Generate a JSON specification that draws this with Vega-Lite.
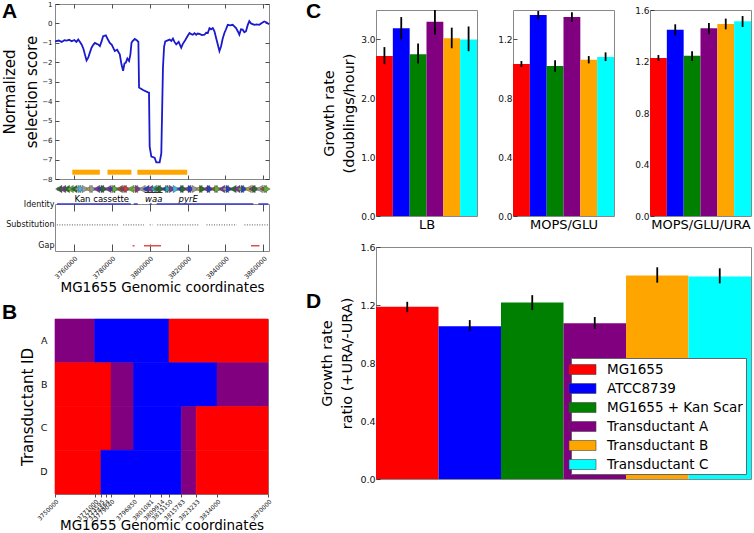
{
"$schema": "https://vega.github.io/schema/vega-lite/v6.json",
"padding": {"left": 1, "top": -19, "right": 0, "bottom": 0},
"autosize": {"type": "pad"},
"background": "white",
"config": {
  "font": "DejaVu Sans",
  "view": {"stroke": "#888888", "strokeWidth": 1},
  "axis": {"grid": false, "domain": false, "labelOverlap": false, "labelFont": "DejaVu Sans", "titleFont": "DejaVu Sans", "titleFontWeight": "normal", "labelColor": "#111111", "titleColor": "#000000", "tickColor": "#222222", "tickWidth": 0.8},
  "title": {"font": "Liberation Sans", "fontWeight": "bold", "fontSize": 21, "color": "#000000", "anchor": "start", "frame": "group", "offset": 0, "baseline": "top"}
},
"datasets": {
  "score": [
    {"pos":3750000,"score":-0.92},{"pos":3752000,"score":-0.88},{"pos":3753500,"score":-0.95},{"pos":3755000,"score":-0.86},
    {"pos":3756140,"score":-0.88},{"pos":3757500,"score":-0.84},{"pos":3758770,"score":-0.92},{"pos":3760200,"score":-0.85},
    {"pos":3761300,"score":-0.95},{"pos":3762280,"score":-0.83},{"pos":3763200,"score":-0.95},{"pos":3764030,"score":-1.08},
    {"pos":3765000,"score":-1.3},{"pos":3765790,"score":-1.59},{"pos":3766660,"score":-1.9},{"pos":3767540,"score":-1.76},
    {"pos":3768400,"score":-1.5},{"pos":3769290,"score":-1.25},{"pos":3770200,"score":-1.1},{"pos":3771050,"score":-1.0},
    {"pos":3772000,"score":-1.05},{"pos":3772800,"score":-1.08},{"pos":3773680,"score":-1.17},{"pos":3774500,"score":-0.95},
    {"pos":3775430,"score":-0.66},{"pos":3776840,"score":-0.61},{"pos":3777800,"score":-0.8},{"pos":3778940,"score":-1.0},
    {"pos":3780000,"score":-1.1},{"pos":3781570,"score":-1.42},{"pos":3782800,"score":-1.35},{"pos":3784200,"score":-1.59},
    {"pos":3785100,"score":-2.1},{"pos":3785960,"score":-2.44},{"pos":3786700,"score":-2.05},{"pos":3787360,"score":-2.02},
    {"pos":3788200,"score":-1.8},{"pos":3789110,"score":-1.93},{"pos":3789820,"score":-1.59},{"pos":3790400,"score":-1.0},
    {"pos":3790870,"score":-0.92},{"pos":3792100,"score":-0.8},{"pos":3793320,"score":-0.88},{"pos":3794030,"score":-0.95},
    {"pos":3794380,"score":-3.29},{"pos":3796480,"score":-3.42},{"pos":3799110,"score":-3.54},{"pos":3799640,"score":-3.55},
    {"pos":3799990,"score":-6.34},{"pos":3800870,"score":-6.85},{"pos":3802620,"score":-6.9},{"pos":3803500,"score":-7.15},
    {"pos":3805250,"score":-7.15},{"pos":3806130,"score":-6.68},{"pos":3807010,"score":-2.27},{"pos":3807600,"score":-1.2},
    {"pos":3808230,"score":-0.92},{"pos":3810510,"score":-0.83},{"pos":3811400,"score":-0.9},{"pos":3812270,"score":-0.78},
    {"pos":3813100,"score":-0.95},{"pos":3814020,"score":-1.08},{"pos":3815300,"score":-0.95},{"pos":3816650,"score":-1.25},
    {"pos":3817500,"score":-1.05},{"pos":3818410,"score":-0.92},{"pos":3819700,"score":-0.7},{"pos":3821040,"score":-0.49},
    {"pos":3822000,"score":-0.55},{"pos":3822790,"score":-0.58},{"pos":3823700,"score":-0.5},{"pos":3824550,"score":-0.58},
    {"pos":3825400,"score":-0.52},{"pos":3826300,"score":-0.54},{"pos":3827600,"score":-0.6},{"pos":3828930,"score":-0.58},
    {"pos":3829800,"score":-0.48},{"pos":3830690,"score":-0.49},{"pos":3831560,"score":-0.24},{"pos":3832400,"score":-0.3},
    {"pos":3833320,"score":-0.24},{"pos":3834200,"score":-0.4},{"pos":3835070,"score":-0.75},{"pos":3836000,"score":-1.1},
    {"pos":3836820,"score":-1.42},{"pos":3837700,"score":-1.17},{"pos":3838500,"score":-0.8},{"pos":3839450,"score":-0.49},
    {"pos":3840300,"score":-0.3},{"pos":3841210,"score":-0.07},{"pos":3842500,"score":-0.1},{"pos":3843840,"score":-0.07},
    {"pos":3844700,"score":-0.15},{"pos":3845600,"score":-0.24},{"pos":3846500,"score":-0.4},{"pos":3847350,"score":-0.58},
    {"pos":3848200,"score":-0.3},{"pos":3849100,"score":-0.32},{"pos":3850000,"score":-0.45},{"pos":3850860,"score":-0.4},
    {"pos":3851700,"score":-0.1},{"pos":3852610,"score":0.12},{"pos":3853500,"score":0.0},{"pos":3855240,"score":-0.07},
    {"pos":3856500,"score":-0.05},{"pos":3857870,"score":-0.07},{"pos":3859200,"score":0.02},{"pos":3860500,"score":0.1},
    {"pos":3861800,"score":0.05},{"pos":3863000,"score":-0.05}
  ],
  "orange": [
    {"start":3759120,"end":3773680},{"start":3777710,"end":3790340},{"start":3793500,"end":3819810}
  ],
  "genes": [
    {"pos":3752000,"dir":"L","c":"c2"},{"pos":3754000,"dir":"L","c":"c3"},{"pos":3756000,"dir":"L","c":"c2"},{"pos":3758000,"dir":"L","c":"c1"},
    {"pos":3760000,"dir":"L","c":"c2"},{"pos":3762000,"dir":"L","c":"c6"},{"pos":3764000,"dir":"R","c":"cy"},{"pos":3766000,"dir":"R","c":"c6"},
    {"pos":3768000,"dir":"L","c":"c7"},{"pos":3770000,"dir":"R","c":"c6"},{"pos":3772000,"dir":"L","c":"c3"},{"pos":3774000,"dir":"L","c":"c4"},
    {"pos":3776000,"dir":"R","c":"c2"},{"pos":3778000,"dir":"L","c":"c3"},{"pos":3780000,"dir":"L","c":"c4"},{"pos":3782000,"dir":"R","c":"c1"},
    {"pos":3784000,"dir":"L","c":"c8"},{"pos":3786000,"dir":"L","c":"c3"},{"pos":3788000,"dir":"R","c":"c9"},{"pos":3790000,"dir":"L","c":"c1"},
    {"pos":3792000,"dir":"L","c":"c7"},{"pos":3794000,"dir":"R","c":"c3"},{"pos":3796000,"dir":"L","c":"c6"},{"pos":3798000,"dir":"L","c":"c4"},
    {"pos":3800000,"dir":"L","c":"c3"},{"pos":3802000,"dir":"L","c":"c5"},{"pos":3804000,"dir":"L","c":"c2"},{"pos":3806000,"dir":"R","c":"c2"},
    {"pos":3808000,"dir":"L","c":"c4"},{"pos":3810000,"dir":"R","c":"c5"},{"pos":3812000,"dir":"R","c":"c3"},{"pos":3814000,"dir":"R","c":"cy"},
    {"pos":3816000,"dir":"L","c":"c4"},{"pos":3818000,"dir":"R","c":"c2"},{"pos":3820000,"dir":"L","c":"c3"},{"pos":3822000,"dir":"R","c":"c4"},
    {"pos":3824000,"dir":"R","c":"c6"},{"pos":3826000,"dir":"L","c":"c7"},{"pos":3828000,"dir":"R","c":"c2"},{"pos":3830000,"dir":"L","c":"c3"},
    {"pos":3832000,"dir":"R","c":"c4"},{"pos":3834000,"dir":"L","c":"c8"},{"pos":3836000,"dir":"R","c":"c1"},{"pos":3838000,"dir":"L","c":"c3"},
    {"pos":3840000,"dir":"L","c":"c6"},{"pos":3842000,"dir":"R","c":"c4"},{"pos":3844000,"dir":"L","c":"c2"},{"pos":3846000,"dir":"L","c":"c3"},
    {"pos":3848000,"dir":"L","c":"c1"},{"pos":3850000,"dir":"R","c":"c4"},{"pos":3852000,"dir":"L","c":"c7"},{"pos":3854000,"dir":"L","c":"c3"},
    {"pos":3856000,"dir":"R","c":"c2"},{"pos":3858000,"dir":"L","c":"c6"},{"pos":3860000,"dir":"L","c":"c8"},{"pos":3862000,"dir":"R","c":"c1"}
  ],
  "genelabels": [
    {"pos":3774700,"label":"Kan cassette","kind":"n"},
    {"pos":3802100,"label":"waa","kind":"i"},
    {"pos":3820300,"label":"pyrE","kind":"i"}
  ],
  "ident": [
    {"track":"Identity","lvl":2,"start":3751050,"end":3790000},
    {"track":"Identity","lvl":2,"start":3791580,"end":3793680},
    {"track":"Identity","lvl":2,"start":3800000,"end":3801050},
    {"track":"Identity","lvl":2,"start":3803680,"end":3854740},
    {"track":"Identity","lvl":2,"start":3857370,"end":3862630},
    {"track":"Substitution","lvl":1,"start":3751000,"end":3784000},
    {"track":"Substitution","lvl":1,"start":3786000,"end":3797000},
    {"track":"Substitution","lvl":1,"start":3800000,"end":3801500},
    {"track":"Substitution","lvl":1,"start":3804000,"end":3826000},
    {"track":"Substitution","lvl":1,"start":3830000,"end":3846000},
    {"track":"Substitution","lvl":1,"start":3850000,"end":3862500},
    {"track":"Gap","lvl":0,"start":3791000,"end":3792000},
    {"track":"Gap","lvl":0,"start":3797000,"end":3806000},
    {"track":"Gap","lvl":0,"start":3853500,"end":3858000}
  ],
  "blocks": [
    {"row":"A","start":3750000,"end":3771000,"src":"mixed"},
    {"row":"A","start":3771000,"end":3813150,"src":"ATCC8739"},
    {"row":"A","start":3813150,"end":3870000,"src":"MG1655"},
    {"row":"B","start":3750000,"end":3779040,"src":"MG1655"},
    {"row":"B","start":3779040,"end":3796850,"src":"mixed"},
    {"row":"B","start":3796850,"end":3834000,"src":"ATCC8739"},
    {"row":"B","start":3834000,"end":3870000,"src":"mixed"},
    {"row":"C","start":3750000,"end":3779040,"src":"MG1655"},
    {"row":"C","start":3779040,"end":3796850,"src":"mixed"},
    {"row":"C","start":3796850,"end":3815783,"src":"ATCC8739"},
    {"row":"C","start":3815783,"end":3823233,"src":"mixed"},
    {"row":"C","start":3823233,"end":3870000,"src":"MG1655"},
    {"row":"D","start":3750000,"end":3773595,"src":"MG1655"},
    {"row":"D","start":3773595,"end":3815783,"src":"ATCC8739"},
    {"row":"D","start":3815783,"end":3823233,"src":"mixed"},
    {"row":"D","start":3823233,"end":3870000,"src":"MG1655"}
  ],
  "growth": [
    {"medium":"LB","strain":"MG1655","value":2.72,"lo":2.58,"hi":2.87},
    {"medium":"LB","strain":"ATCC8739","value":3.19,"lo":3.0,"hi":3.38},
    {"medium":"LB","strain":"MG1655 + Kan Scar","value":2.75,"lo":2.59,"hi":2.93},
    {"medium":"LB","strain":"Transductant A","value":3.3,"lo":3.08,"hi":3.51},
    {"medium":"LB","strain":"Transductant B","value":3.02,"lo":2.85,"hi":3.2},
    {"medium":"LB","strain":"Transductant C","value":3.0,"lo":2.8,"hi":3.22},
    {"medium":"MOPS/GLU","strain":"MG1655","value":1.033,"lo":1.013,"hi":1.053},
    {"medium":"MOPS/GLU","strain":"ATCC8739","value":1.366,"lo":1.337,"hi":1.393},
    {"medium":"MOPS/GLU","strain":"MG1655 + Kan Scar","value":1.02,"lo":0.981,"hi":1.058},
    {"medium":"MOPS/GLU","strain":"Transductant A","value":1.352,"lo":1.318,"hi":1.384},
    {"medium":"MOPS/GLU","strain":"Transductant B","value":1.062,"lo":1.037,"hi":1.087},
    {"medium":"MOPS/GLU","strain":"Transductant C","value":1.08,"lo":1.053,"hi":1.112},
    {"medium":"MOPS/GLU/URA","strain":"MG1655","value":1.227,"lo":1.204,"hi":1.25},
    {"medium":"MOPS/GLU/URA","strain":"ATCC8739","value":1.447,"lo":1.403,"hi":1.489},
    {"medium":"MOPS/GLU/URA","strain":"MG1655 + Kan Scar","value":1.245,"lo":1.204,"hi":1.28},
    {"medium":"MOPS/GLU/URA","strain":"Transductant A","value":1.458,"lo":1.411,"hi":1.499},
    {"medium":"MOPS/GLU/URA","strain":"Transductant B","value":1.491,"lo":1.45,"hi":1.533},
    {"medium":"MOPS/GLU/URA","strain":"Transductant C","value":1.512,"lo":1.468,"hi":1.553}
  ],
  "ratio": [
    {"strain":"MG1655","value":1.188,"lo":1.151,"hi":1.222},
    {"strain":"ATCC8739","value":1.054,"lo":1.02,"hi":1.096},
    {"strain":"MG1655 + Kan Scar","value":1.218,"lo":1.165,"hi":1.268},
    {"strain":"Transductant A","value":1.075,"lo":1.036,"hi":1.117},
    {"strain":"Transductant B","value":1.404,"lo":1.354,"hi":1.46},
    {"strain":"Transductant C","value":1.397,"lo":1.349,"hi":1.453}
  ]
},
"spacing": 32,
"resolve": {"scale": {"color": "independent"}, "legend": {"color": "independent"}},
"hconcat": [
  {
    "bounds": "flush",
    "spacing": 0,
    "resolve": {"scale": {"color": "independent", "stroke": "independent"}, "legend": {"color": "independent"}},
    "vconcat": [
      {"width": 214, "height": 20, "view": {"stroke": null}, "data": {"values": [{}]}, "mark": {"type": "point", "opacity": 0}},
      {
        "width": 214, "height": 175,
        "title": {"text": "A", "dx": -53, "dy": 26},
        "layer": [
          {
            "data": {"name": "score"},
            "mark": {"type": "line", "color": "#1a1acd", "strokeWidth": 1.8, "clip": true},
            "encoding": {
              "x": {"field": "pos", "type": "quantitative", "scale": {"domain": [3750000, 3863000], "nice": false, "zero": false},
                    "axis": {"orient": "bottom", "values": [3760000, 3780000, 3800000, 3820000, 3840000, 3860000], "labels": false, "tickSize": -4, "title": null}},
              "y": {"field": "score", "type": "quantitative", "scale": {"domain": [-8, 1], "nice": false, "zero": false},
                    "axis": {"values": [-8, -7, -6, -5, -4, -3, -2, -1, 0, 1], "labelOverlap": false, "labelFontSize": 7, "tickSize": -4, "labelPadding": 7,
                             "title": ["Normalized", "selection score"], "titleFontSize": 15, "titleLineHeight": 22, "titlePadding": 2}}
            }
          },
          {
            "mark": {"type": "rule", "strokeDash": [4, 3], "color": "#777777", "strokeWidth": 1},
            "encoding": {"y": {"datum": 0, "type": "quantitative", "axis": null}}
          },
          {
            "data": {"name": "orange"},
            "mark": {"type": "rule", "color": "#ffa500", "strokeWidth": 5},
            "encoding": {
              "x": {"field": "start", "type": "quantitative",
                    "axis": {"orient": "top", "values": [3760000, 3780000, 3800000, 3820000, 3840000, 3860000], "labels": false, "tickSize": -4, "title": null}},
              "x2": {"field": "end"},
              "y": {"datum": -7.65, "type": "quantitative",
                    "axis": {"orient": "right", "values": [-8, -7, -6, -5, -4, -3, -2, -1, 0, 1], "labels": false, "tickSize": -4, "title": null}}
            }
          }
        ],
        "resolve": {"axis": {"x": "independent", "y": "independent"}}
      },
      {
        "width": 214, "height": 25,
        "view": {"stroke": null},
        "layer": [
          {
            "data": {"values": [{"start": 3751000, "end": 3862500}]},
            "mark": {"type": "rule", "color": "#bdbdbd", "strokeWidth": 4},
            "encoding": {
              "x": {"field": "start", "type": "quantitative", "scale": {"domain": [3750000, 3863000], "nice": false, "zero": false}, "axis": null},
              "x2": {"field": "end"},
              "y": {"datum": 0.6, "type": "quantitative", "scale": {"domain": [0, 1], "nice": false}, "axis": null}
            }
          },
          {
            "data": {"name": "genes"},
            "mark": {"type": "point", "filled": true, "size": 55, "opacity": 1, "stroke": "#333333", "strokeWidth": 0.3},
            "encoding": {
              "x": {"field": "pos", "type": "quantitative"},
              "y": {"datum": 0.6, "type": "quantitative"},
              "shape": {"field": "dir", "type": "nominal", "scale": {"domain": ["L", "R"], "range": ["triangle-left", "triangle-right"]}, "legend": null},
              "color": {"field": "c", "type": "nominal",
                        "scale": {"domain": ["c1","c2","c3","c4","c5","c6","c7","c8","c9","cy"],
                                  "range": ["#5fae3c","#2e6b2e","#7a3b8f","#2c3fbf","#2fa39a","#9a9a9a","#a6a83a","#8b5a2b","#c84040","#3fb6e0"]},
                        "legend": null}
            }
          },
          {
            "data": {"name": "genelabels"},
            "transform": [{"filter": "datum.kind === 'n'"}],
            "mark": {"type": "text", "fontSize": 8.5, "font": "DejaVu Sans", "color": "#000000"},
            "encoding": {
              "x": {"field": "pos", "type": "quantitative"},
              "y": {"datum": 0.22, "type": "quantitative"},
              "text": {"field": "label"}
            }
          },
          {
            "data": {"name": "genelabels"},
            "transform": [{"filter": "datum.kind === 'i'"}],
            "mark": {"type": "text", "fontSize": 8.5, "font": "DejaVu Sans", "fontStyle": "italic", "color": "#000000"},
            "encoding": {
              "x": {"field": "pos", "type": "quantitative"},
              "y": {"datum": 0.22, "type": "quantitative"},
              "text": {"field": "label"}
            }
          },
          {
            "data": {"values": [{"start": 3797400, "end": 3806800}]},
            "mark": {"type": "rule", "color": "#333333", "strokeWidth": 1},
            "encoding": {
              "x": {"field": "start", "type": "quantitative"},
              "x2": {"field": "end"},
              "y": {"datum": 0.46, "type": "quantitative"}
            }
          }
        ]
      },
      {
        "width": 214, "height": 47,
        "layer": [
          {
            "data": {"name": "ident"},
            "mark": {"type": "rule", "strokeWidth": 1.4},
            "encoding": {
              "x": {"field": "start", "type": "quantitative", "scale": {"domain": [3750000, 3863000], "nice": false, "zero": false},
                    "axis": {"orient": "bottom", "values": [3760000, 3780000, 3800000, 3820000, 3840000, 3860000], "format": "d", "labelOverlap": false,
                             "labelAngle": -45, "labelAlign": "right", "labelBaseline": "top", "labelFontSize": 6.5, "tickSize": -7, "labelPadding": 11,
                             "title": "MG1655 Genomic coordinates", "titleFontSize": 13.5, "titlePadding": 0}},
              "x2": {"field": "end"},
              "y": {"field": "lvl", "type": "quantitative", "scale": {"domain": [-0.25, 2], "nice": false, "zero": false},
                    "axis": {"values": [0, 1, 2], "labelOverlap": false, "labelExpr": "datum.value == 2 ? 'Identity' : datum.value == 1 ? 'Substitution' : 'Gap'",
                             "ticks": false, "labelFontSize": 8, "labelPadding": 1, "title": null}},
              "color": {"field": "track", "type": "nominal", "scale": {"domain": ["Identity", "Substitution", "Gap"], "range": ["#3a3acc", "#777777", "#e05050"]}, "legend": null},
              "strokeDash": {"field": "track", "type": "nominal", "scale": {"domain": ["Identity", "Substitution", "Gap"], "range": [[1, 0], [1, 1.5], [1, 0]]}, "legend": null}
            }
          },
          {
            "data": {"name": "ident"},
            "mark": {"type": "rule", "opacity": 0},
            "encoding": {
              "x": {"field": "start", "type": "quantitative",
                    "axis": {"orient": "top", "values": [3760000, 3780000, 3800000, 3820000, 3840000, 3860000], "labels": false, "tickSize": -7, "title": null}}
            }
          }
        ],
        "resolve": {"axis": {"x": "independent"}}
      },
      {"width": 214, "height": 68, "view": {"stroke": null}, "data": {"values": [{}]}, "mark": {"type": "point", "opacity": 0}},
      {
        "width": 213, "height": 175,
        "title": {"text": "B", "dx": -53, "dy": 8},
        "data": {"name": "blocks"},
        "mark": {"type": "rect", "strokeWidth": 0.6},
        "encoding": {
          "x": {"field": "start", "type": "quantitative",
                "scale": {"domain": [3750000, 3771000, 3773595, 3774464, 3779040, 3796850, 3801081, 3809914, 3813150, 3815783, 3823233, 3834000, 3870000],
                          "range": [0, 39.7, 45.9, 51, 56, 78.5, 95, 106, 114, 126.4, 141.2, 162, 213], "nice": false, "zero": false},
                "axis": {"values": [3750000, 3771000, 3773595, 3774464, 3779040, 3796850, 3801081, 3809914, 3813150, 3815783, 3823233, 3834000, 3870000],
                         "format": "d", "labelOverlap": false, "labelAngle": -45, "labelAlign": "right", "labelBaseline": "top", "labelFontSize": 6, "tickSize": 3, "labelPadding": 1,
                         "title": "MG1655 Genomic coordinates", "titleFontSize": 13.5, "titlePadding": -3}},
          "x2": {"field": "end"},
          "y": {"field": "row", "type": "nominal", "scale": {"paddingInner": 0, "paddingOuter": 0},
                "axis": {"ticks": false, "labelFontSize": 9.5, "labelPadding": 8, "title": "Transductant ID", "titleFontSize": 15, "titlePadding": 4}},
          "color": {"field": "src", "type": "nominal", "scale": {"domain": ["MG1655", "ATCC8739", "mixed"], "range": ["#ff0000", "#0000ff", "#800080"]}, "legend": null},
          "stroke": {"field": "src", "type": "nominal", "scale": {"domain": ["MG1655", "ATCC8739", "mixed"], "range": ["#ff0000", "#0000ff", "#800080"]}, "legend": null}
        }
      }
    ]
  },
  {
    "spacing": 12,
    "resolve": {"scale": {"color": "independent"}, "legend": {"color": "independent"}},
    "vconcat": [
      {"width": 101, "height": 1, "view": {"stroke": null}, "data": {"values": [{}]}, "mark": {"type": "point", "opacity": 0}},
      {
        "spacing": 9,
        "resolve": {"scale": {"color": "independent"}, "legend": {"color": "independent"}},
        "vconcat": [
          {
            "bounds": "flush",
            "spacing": 36,
            "resolve": {"scale": {"color": "independent"}, "legend": {"color": "independent"}},
            "hconcat": [
              {
                "width": 101, "height": 206,
                "title": {"text": "C", "dx": -70, "dy": 16},
                "data": {"name": "growth"},
                "transform": [{"filter": "datum.medium === 'LB'"}],
                "encoding": {
                  "x": {"field": "strain", "type": "nominal",
                        "scale": {"domain": ["MG1655", "ATCC8739", "MG1655 + Kan Scar", "Transductant A", "Transductant B", "Transductant C"], "paddingInner": 0, "paddingOuter": 0},
                        "axis": {"title": "LB", "labels": false, "ticks": false, "titleFontSize": 13, "titlePadding": 2}}
                },
                "layer": [
                  {
                    "mark": {"type": "bar"},
                    "encoding": {
                      "y": {"field": "value", "type": "quantitative", "scale": {"domain": [0, 3.5], "nice": false},
                            "axis": {"values": [0, 0.5, 1, 1.5, 2, 2.5, 3, 3.5], "labelOverlap": false, "format": ".1f", "labelFontSize": 9, "tickSize": -4, "labelPadding": 5,
                                     "title": ["Growth rate", "(doublings/hour)"], "titleFontSize": 14.5, "titleLineHeight": 20, "titlePadding": 4}},
                      "color": {"field": "strain", "type": "nominal",
                                "scale": {"domain": ["MG1655", "ATCC8739", "MG1655 + Kan Scar", "Transductant A", "Transductant B", "Transductant C"],
                                          "range": ["#ff0000", "#0000ff", "#008000", "#800080", "#ffa500", "#00ffff"]}, "legend": null}
                    }
                  },
                  {
                    "mark": {"type": "rule", "color": "#000000", "strokeWidth": 1.8, "clip": true},
                    "encoding": {"y": {"field": "lo", "type": "quantitative"}, "y2": {"field": "hi"}}
                  }
                ]
              },
              {
                "width": 101, "height": 206,
                "data": {"name": "growth"},
                "transform": [{"filter": "datum.medium === 'MOPS/GLU'"}],
                "encoding": {
                  "x": {"field": "strain", "type": "nominal",
                        "scale": {"domain": ["MG1655", "ATCC8739", "MG1655 + Kan Scar", "Transductant A", "Transductant B", "Transductant C"], "paddingInner": 0, "paddingOuter": 0},
                        "axis": {"title": "MOPS/GLU", "labels": false, "ticks": false, "titleFontSize": 13, "titlePadding": 2}}
                },
                "layer": [
                  {
                    "mark": {"type": "bar"},
                    "encoding": {
                      "y": {"field": "value", "type": "quantitative", "scale": {"domain": [0, 1.4], "nice": false},
                            "axis": {"values": [0, 0.2, 0.4, 0.6, 0.8, 1.0, 1.2, 1.4], "labelOverlap": false, "format": ".1f", "labelFontSize": 9, "tickSize": -4, "labelPadding": 5, "title": null}},
                      "color": {"field": "strain", "type": "nominal",
                                "scale": {"domain": ["MG1655", "ATCC8739", "MG1655 + Kan Scar", "Transductant A", "Transductant B", "Transductant C"],
                                          "range": ["#ff0000", "#0000ff", "#008000", "#800080", "#ffa500", "#00ffff"]}, "legend": null}
                    }
                  },
                  {
                    "mark": {"type": "rule", "color": "#000000", "strokeWidth": 1.8, "clip": true},
                    "encoding": {"y": {"field": "lo", "type": "quantitative"}, "y2": {"field": "hi"}}
                  }
                ]
              },
              {
                "width": 101, "height": 206,
                "data": {"name": "growth"},
                "transform": [{"filter": "datum.medium === 'MOPS/GLU/URA'"}],
                "encoding": {
                  "x": {"field": "strain", "type": "nominal",
                        "scale": {"domain": ["MG1655", "ATCC8739", "MG1655 + Kan Scar", "Transductant A", "Transductant B", "Transductant C"], "paddingInner": 0, "paddingOuter": 0},
                        "axis": {"title": "MOPS/GLU/URA", "labels": false, "ticks": false, "titleFontSize": 13, "titlePadding": 2}}
                },
                "layer": [
                  {
                    "mark": {"type": "bar"},
                    "encoding": {
                      "y": {"field": "value", "type": "quantitative", "scale": {"domain": [0, 1.6], "nice": false},
                            "axis": {"values": [0, 0.2, 0.4, 0.6, 0.8, 1.0, 1.2, 1.4, 1.6], "labelOverlap": false, "format": ".1f", "labelFontSize": 9, "tickSize": -4, "labelPadding": 5, "title": null}},
                      "color": {"field": "strain", "type": "nominal",
                                "scale": {"domain": ["MG1655", "ATCC8739", "MG1655 + Kan Scar", "Transductant A", "Transductant B", "Transductant C"],
                                          "range": ["#ff0000", "#0000ff", "#008000", "#800080", "#ffa500", "#00ffff"]}, "legend": null}
                    }
                  },
                  {
                    "mark": {"type": "rule", "color": "#000000", "strokeWidth": 1.8, "clip": true},
                    "encoding": {"y": {"field": "lo", "type": "quantitative"}, "y2": {"field": "hi"}}
                  }
                ]
              }
            ]
          },
          {
            "width": 375, "height": 232,
            "title": {"text": "D", "dx": -70, "dy": 74},
            "data": {"name": "ratio"},
            "encoding": {
              "x": {"field": "strain", "type": "nominal",
                    "scale": {"domain": ["MG1655", "ATCC8739", "MG1655 + Kan Scar", "Transductant A", "Transductant B", "Transductant C"], "paddingInner": 0, "paddingOuter": 0},
                    "axis": null}
            },
            "layer": [
              {
                "mark": {"type": "bar"},
                "encoding": {
                  "y": {"field": "value", "type": "quantitative", "scale": {"domain": [0, 1.6], "nice": false},
                        "axis": {"values": [0, 0.2, 0.4, 0.6, 0.8, 1.0, 1.2, 1.4, 1.6], "labelOverlap": false, "format": ".1f", "labelFontSize": 9.5, "tickSize": -4, "labelPadding": 5,
                                 "title": ["Growth rate", "ratio (+URA/-URA)"], "titleFontSize": 14.5, "titleLineHeight": 20, "titlePadding": 5}},
                  "color": {"field": "strain", "type": "nominal",
                            "scale": {"domain": ["MG1655", "ATCC8739", "MG1655 + Kan Scar", "Transductant A", "Transductant B", "Transductant C"],
                                      "range": ["#ff0000", "#0000ff", "#008000", "#800080", "#ffa500", "#00ffff"]},
                            "legend": {"orient": "bottom-right", "offset": 5, "title": null, "fillColor": "#ffffff", "strokeColor": "#666666", "padding": 3,
                                       "labelFontSize": 13.5, "labelFont": "DejaVu Sans", "labelColor": "#000000", "labelLimit": 300,
                                       "symbolType": "M-1.69,-0.625H1.69V0.625H-1.69Z", "symbolSize": 256, "symbolStrokeColor": "#444444", "symbolStrokeWidth": 0.6,
                                       "rowPadding": 4, "labelOffset": 16}}
                }
              },
              {
                "mark": {"type": "rule", "color": "#000000", "strokeWidth": 1.8},
                "encoding": {"y": {"field": "lo", "type": "quantitative"}, "y2": {"field": "hi"}}
              }
            ]
          }
        ]
      }
    ]
  }
]
}
